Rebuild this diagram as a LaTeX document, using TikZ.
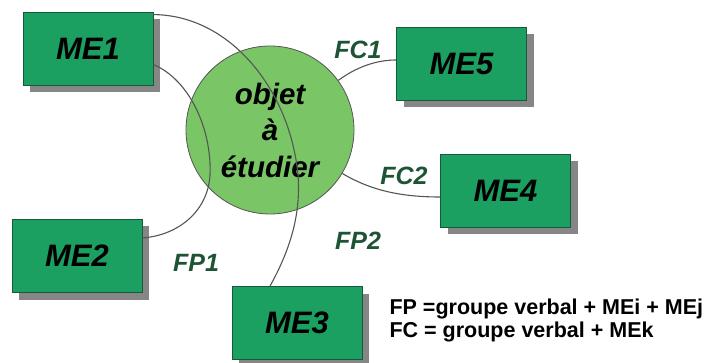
\documentclass[tikz,border=0pt]{standalone}
\usepackage{fontspec}
\setmainfont{Liberation Sans}
\usetikzlibrary{shadows}

\definecolor{boxgreen}{RGB}{28,160,98}
\definecolor{boxline}{RGB}{20,90,60}
\definecolor{objgreen}{RGB}{122,198,102}
\definecolor{lblgreen}{RGB}{28,84,52}
\definecolor{linkgray}{RGB}{85,85,85}

\begin{document}
\begin{tikzpicture}[x=1pt,y=-1pt,
    mebox/.style={draw=boxline, line width=0.8pt, fill=boxgreen,
        minimum width=130pt, minimum height=73pt, inner sep=0pt,
        font=\fontsize{30}{36}\selectfont\bfseries\itshape,
        drop shadow={shadow xshift=7pt, shadow yshift=-7pt, fill=gray!95, opacity=1}},
    link/.style={draw=linkgray, line width=1.1pt},
    lbl/.style={text=lblgreen, font=\fontsize{25}{30}\selectfont\bfseries\itshape},
    legend/.style={anchor=west, font=\fontsize{21.5}{26}\selectfont\bfseries}]

\useasboundingbox (0,0) rectangle (709,363);

% objet central
\node[circle, draw=linkgray, line width=0.8pt, fill=objgreen, minimum size=168pt,
      align=center, font=\fontsize{29.5}{36.5}\selectfont\bfseries\itshape] (obj) at (270,130)
      {objet\\à\\étudier};

% les boites ME
\foreach \nom/\x/\y in {me1/88/48.5, me5/461.5/64, me4/505.5/190.5, me2/77/256, me3/297/323} {
    \node[mebox] (\nom) at (\x,\y) {};
}
\node[font=\fontsize{31}{36}\selectfont\bfseries\itshape] at (me1) {ME1};
\node[font=\fontsize{31}{36}\selectfont\bfseries\itshape] at (me2) {ME2};
\node[font=\fontsize{31}{36}\selectfont\bfseries\itshape] at (me3) {ME3};
\node[font=\fontsize{31}{36}\selectfont\bfseries\itshape] at (me4) {ME4};
\node[font=\fontsize{31}{36}\selectfont\bfseries\itshape] at (me5) {ME5};

\coordinate (fp2mid) at (298,175);
\coordinate (fp1mid) at (210,175);

% FP : deux ME reliees a travers l'objet
\draw[link] ([yshift=-3pt]me1.north east) .. controls (230,15) and (290,90) .. (fp2mid)
    .. controls (301,215) and (290,250) .. ([xshift=-27pt]me3.north);
\draw[link] ([yshift=-16pt]me1.east) .. controls (190,80) and (212,130) .. (fp1mid)
    .. controls (208,210) and (180,235) .. ([yshift=18pt]me2.east);

% FC : objet vers une ME
\draw[link] (obj.36) .. controls (355,68) and (375,60) .. ([yshift=4pt]me5.west);
\draw[link] (obj.-31) .. controls (370,190) and (400,197) .. ([yshift=-6.5pt]me4.west);

\node[lbl] (fc1) at (358,50) {FC1};
\node[lbl] (fc2) at (404,176) {FC2};
\node[lbl] (fp1) at (196,263) {FP1};
\node[lbl] (fp2) at (358,241) {FP2};

\node[legend] (leg1) at (386,309) {FP =groupe verbal + MEi + MEj};
\node[legend] (leg2) at (386,332) {FC = groupe verbal + MEk};
\end{tikzpicture}
\end{document}
